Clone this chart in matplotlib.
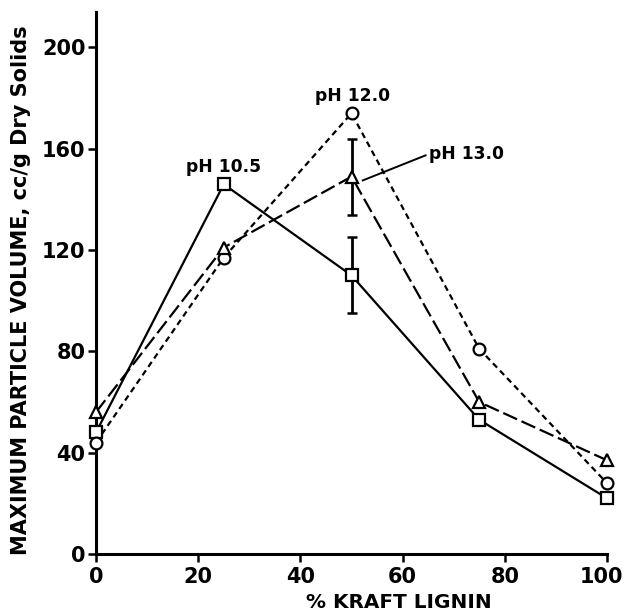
import matplotlib
matplotlib.use("Agg")
import matplotlib.pyplot as plt
import matplotlib.transforms as mtransforms

# % kraft lignin in the blend
lignin_pct = [0, 25, 50, 75, 100]

# maximum particle volume, cc/g dry solids
ph_10_5 = [48, 146, 110, 53, 22]
ph_12_0 = [44, 117, 174, 81, 28]
ph_13_0 = [56, 121, 149, 60, 37]

# error bars at 50 % lignin
err_x = 50
err_10_5 = 15
err_13_0 = 15

x_ticks = [0, 20, 40, 60, 80, 100]
y_ticks = [0, 40, 80, 120, 160, 200]

plt.rcParams['font.family'] = ['DejaVu Sans']
plt.rcParams['font.weight'] = 'bold'

W, H = 625, 613
fig = plt.figure(figsize=(W / 100, H / 100), dpi=100)
ax = fig.add_axes([96 / W, (H - 554) / H, (607 - 96) / W, (554 - 12) / H])

lw = 1.6
ms = 8.5
common = dict(color='black', lw=lw, markersize=ms, markerfacecolor='white',
              markeredgecolor='black', markeredgewidth=1.6, clip_on=False, zorder=3)

ax.plot(lignin_pct, ph_10_5, marker='s', linestyle='-', **common)
ax.plot(lignin_pct, ph_12_0, marker='o', linestyle=(0, (2.7, 1.9)), **common)
ax.plot(lignin_pct, ph_13_0, marker='^', linestyle=(0, (6.8, 2.2)), **common)

i = lignin_pct.index(err_x)
ax.errorbar([err_x], [ph_10_5[i]], yerr=[err_10_5], fmt='none', ecolor='black',
            elinewidth=2.0, capsize=3.5, capthick=1.8, zorder=2)
ax.errorbar([err_x], [ph_13_0[i]], yerr=[err_13_0], fmt='none', ecolor='black',
            elinewidth=2.0, capsize=3.5, capthick=1.8, zorder=2)

lab_fs = 12.3
ax.text(24.9, 151, 'pH 10.5', ha='center', va='baseline', fontsize=lab_fs, fontweight='bold')
ax.text(50.2, 178.7, 'pH 12.0', ha='center', va='baseline', fontsize=lab_fs, fontweight='bold')
ax.text(65.1, 155.8, 'pH 13.0', ha='left', va='baseline', fontsize=lab_fs, fontweight='bold')
ax.plot([52.2, 64.5], [147.5, 157.4], color='black', lw=1.4)

ax.set_xlim(0, 100)
ax.set_ylim(0, 214)
ax.set_xticks(x_ticks)
ax.set_yticks(y_ticks)
ax.tick_params(direction='out', length=6, width=1.8, labelsize=15)
ax.tick_params(axis='y', pad=1.5)
ax.tick_params(axis='x', pad=3.5)
for lab in ax.get_xticklabels() + ax.get_yticklabels():
    lab.set_fontweight('bold')

# keep the last x tick label inside the figure edge
last = ax.get_xticklabels()[-1]
last.set_transform(last.get_transform() +
                   mtransforms.ScaledTranslation(-6 / 100, 0, fig.dpi_scale_trans))

for side in ('top', 'right'):
    ax.spines[side].set_visible(False)
for side in ('left', 'bottom'):
    ax.spines[side].set_linewidth(2.2)

fig.text(399 / W, 4.5 / H, '% KRAFT LIGNIN', ha='center', va='baseline',
         fontsize=14.4, fontweight='bold')
fig.text(21 / W, 1 - 290 / H, 'MAXIMUM PARTICLE VOLUME, cc/g Dry Solids',
         rotation=90, ha='center', va='center', fontsize=15, fontweight='bold')

fig.savefig('out.png', dpi=100)
